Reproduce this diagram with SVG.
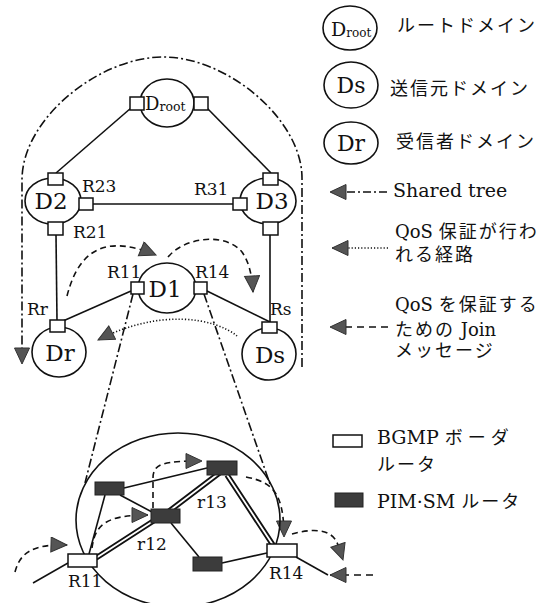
<svg xmlns="http://www.w3.org/2000/svg" width="557" height="603" viewBox="0 0 557 603">
<defs>
<style>
.dom{fill:#fff;stroke:#111;stroke-width:1.6}
.rt{fill:#fff;stroke:#111;stroke-width:1.5}
.pim{fill:#3c3c3c;stroke:#222;stroke-width:1}
.ln{fill:none;stroke:#111;stroke-width:1.6}
.dd{fill:none;stroke:#111;stroke-width:1.6;stroke-dasharray:9,3,2,3}
.dash{fill:none;stroke:#111;stroke-width:1.6;stroke-dasharray:6,4}
.dot{fill:none;stroke:#111;stroke-width:1.6;stroke-dasharray:1.2,2}
.dbo{fill:none;stroke:#111;stroke-width:5.5}
.dbi{fill:none;stroke:#fff;stroke-width:1.8}
text{font-family:"DejaVu Serif","Noto Sans CJK JP",serif;fill:#111}
.lb{font-size:17px}
.big{font-size:23px}
.jp{font-size:18px;letter-spacing:2px}
.en{font-size:19px}
</style>
<marker id="ah" markerUnits="userSpaceOnUse" markerWidth="20" markerHeight="18" refX="17" refY="8" orient="auto" viewBox="0 0 20 18">
<path d="M1,0.5 L17,8 L1,15.5 Z" fill="#555" stroke="#333" stroke-width="1"/>
</marker>
</defs>

<!-- connectors -->
<g id="connectors">
<line class="ln" x1="131" y1="108" x2="56" y2="173"/>
<line class="ln" x1="207" y1="108" x2="271" y2="173"/>
<line class="ln" x1="93" y1="204" x2="233" y2="204"/>
<line class="ln" x1="56" y1="235" x2="57" y2="320"/>
<line class="ln" x1="270" y1="235" x2="270" y2="322"/>
<line class="ln" x1="131" y1="291" x2="63" y2="321"/>
<line class="ln" x1="207" y1="291" x2="270" y2="322"/>
<path class="dd" d="M302,367 L302,178 C302,120 228,57 163,57 C100,57 22,118 22,180 L22,364" marker-end="url(#ah)"/>
<path class="dash" d="M67,296 C80,245 110,236 156,255" marker-end="url(#ah)"/>
<path class="dash" d="M168,257 C185,237 225,232 242,252 C249,262 252,275 253,292" marker-end="url(#ah)"/>
<path class="dot" d="M237,336 C215,318 160,308 98,340" marker-end="url(#ah)"/>
<line class="dd" x1="133" y1="294" x2="85" y2="483"/>
<line class="dd" x1="204" y1="294" x2="270" y2="484"/>
<!-- bottom -->
<line class="ln" x1="124" y1="488" x2="207" y2="468"/>
<line class="ln" x1="105" y1="495" x2="89" y2="554"/>
<line class="ln" x1="120" y1="495" x2="152" y2="512"/>
<line class="ln" x1="171" y1="523" x2="199" y2="557"/>
<line class="ln" x1="222" y1="563" x2="267" y2="553"/>
<line class="ln" x1="68" y1="563" x2="33" y2="583"/>
<line class="ln" x1="296" y1="557" x2="328" y2="575"/>
<path class="dbo" d="M96,558 L158,518 M168,512 L222,471 M227,475 L273,545"/>
<path class="dbi" d="M96,558 L158,518 M168,512 L222,471 M227,475 L273,545"/>
<path class="dash" d="M15,572 C20,553 32,544 67,545" marker-end="url(#ah)"/>
<path class="dash" d="M92,548 C95,524 107,515 148,515" marker-end="url(#ah)"/>
<path class="dash" d="M153,508 L153,478 C153,463 165,461 202,461" marker-end="url(#ah)"/>
<path class="dash" d="M246,477 C272,482 284,492 284,537" marker-end="url(#ah)"/>
<path class="dash" d="M292,534 C310,529 332,527 338,545 L343,560" marker-end="url(#ah)"/>
<path class="dash" d="M373,575 L330,575" marker-end="url(#ah)" style="stroke-dasharray:7,5"/>
</g>

<!-- top diagram nodes -->
<g id="Droot">
<ellipse class="dom" cx="167" cy="103" rx="27" ry="24"/>
<rect class="rt" x="130" y="97" width="14" height="13"/>
<rect class="rt" x="194" y="97" width="14" height="13"/>
<text x="145" y="110" style="font-size:18px">D<tspan style="font-size:12.5px" y="111">root</tspan></text>
</g>
<g id="D2">
<ellipse class="dom" cx="53" cy="201" rx="28" ry="23"/>
<rect class="rt" x="48" y="173" width="15" height="12"/>
<rect class="rt" x="79" y="198" width="14" height="12"/>
<rect class="rt" x="48" y="222" width="15" height="13"/>
<text class="big" x="51" y="209" text-anchor="middle">D2</text>
</g>
<g id="D3">
<ellipse class="dom" cx="268" cy="201" rx="28" ry="23"/>
<rect class="rt" x="263" y="173" width="15" height="12"/>
<rect class="rt" x="233" y="198" width="14" height="12"/>
<rect class="rt" x="263" y="222" width="15" height="13"/>
<text class="big" x="272" y="209" text-anchor="middle">D3</text>
</g>
<g id="D1">
<ellipse class="dom" cx="167" cy="288" rx="29" ry="25"/>
<rect class="rt" x="131" y="282" width="13" height="12"/>
<rect class="rt" x="194" y="282" width="13" height="12"/>
<text class="big" x="165" y="297" text-anchor="middle">D1</text>
</g>
<g id="Dr">
<ellipse class="dom" cx="59" cy="352" rx="27" ry="25"/>
<rect class="rt" x="50" y="320" width="15" height="12"/>
<text class="big" x="60" y="361" text-anchor="middle">Dr</text>
</g>
<g id="Ds">
<ellipse class="dom" cx="269" cy="354" rx="27" ry="26"/>
<rect class="rt" x="262" y="322" width="15" height="11"/>
<text class="big" x="270" y="363" text-anchor="middle">Ds</text>
</g>
<g id="labels-top">
<text class="lb" x="82" y="192">R23</text>
<text class="lb" x="194" y="195">R31</text>
<text class="lb" x="73" y="238">R21</text>
<text class="lb" x="27" y="315">Rr</text>
<text class="lb" x="107" y="278">R11</text>
<text class="lb" x="195" y="278">R14</text>
<text class="lb" x="270" y="315">Rs</text>
</g>

<!-- bottom detail -->
<g id="D1-detail">
<ellipse class="dom" cx="178" cy="520" rx="102" ry="87" style="fill:none"/>
</g>
<g id="A"><rect class="pim" x="95" y="482" width="29" height="13"/></g>
<g id="r12"><rect class="pim" x="151" y="509" width="29" height="14"/><text class="lb" x="137" y="550">r12</text></g>
<g id="r13"><rect class="pim" x="207" y="461" width="30" height="14"/><text class="lb" x="197" y="508">r13</text></g>
<g id="D"><rect class="pim" x="193" y="557" width="29" height="14"/></g>
<g id="R11b"><rect class="rt" x="68" y="554" width="29" height="13"/><text class="lb" x="68" y="587">R11</text></g>
<g id="R14b"><rect class="rt" x="267" y="544" width="30" height="13"/><text class="lb" x="269" y="579">R14</text></g>

<!-- legend -->
<g id="legend-root">
<ellipse class="dom" cx="350" cy="28" rx="27" ry="22"/>
<text x="331" y="36" style="font-size:19px">D<tspan style="font-size:12px" y="37">root</tspan></text>
<text class="jp" x="397" y="32">ルートドメイン</text>
</g>
<g id="legend-ds">
<ellipse class="dom" cx="351" cy="85" rx="27" ry="23"/>
<text x="351" y="93" text-anchor="middle" style="font-size:22px">Ds</text>
<text class="jp" x="390" y="95">送信元ドメイン</text>
</g>
<g id="legend-dr">
<ellipse class="dom" cx="351" cy="143" rx="27" ry="21"/>
<text x="351" y="151" text-anchor="middle" style="font-size:22px">Dr</text>
<text class="jp" x="396" y="148">受信者ドメイン</text>
</g>
<g id="legend-shared">
<path class="dd" d="M387,192 L330,192" marker-end="url(#ah)" style="stroke-dasharray:8,3,2,3"/>
<text class="en" x="393" y="197">Shared tree</text>
</g>
<g id="legend-qos">
<path class="dot" d="M388,248 L332,248" marker-end="url(#ah)"/>
<text x="395" y="238" style="font-size:18px">QoS <tspan class="jp">保証が行わ</tspan></text>
<text class="jp" x="395" y="261">れる経路</text>
</g>
<g id="legend-join">
<path class="dash" d="M388,327 L330,327" marker-end="url(#ah)" style="stroke-dasharray:7,5"/>
<text x="395" y="311" style="font-size:18px">QoS <tspan class="jp">を保証する</tspan></text>
<text x="395" y="336" style="font-size:18px"><tspan class="jp">ための</tspan> Join</text>
<text class="jp" x="395" y="357">メッセージ</text>
</g>
<g id="legend-bgmp">
<rect class="rt" x="333" y="435" width="29" height="12"/>
<text x="377" y="444" style="font-size:19px">BGMP <tspan class="jp" style="letter-spacing:5px">ボーダ</tspan></text>
<text class="jp" x="377" y="471">ルータ</text>
</g>
<g id="legend-pim">
<rect class="pim" x="335" y="493" width="28" height="14"/>
<text x="377" y="508" style="font-size:19px">PIM·SM <tspan class="jp">ルータ</tspan></text>
</g>
</svg>
